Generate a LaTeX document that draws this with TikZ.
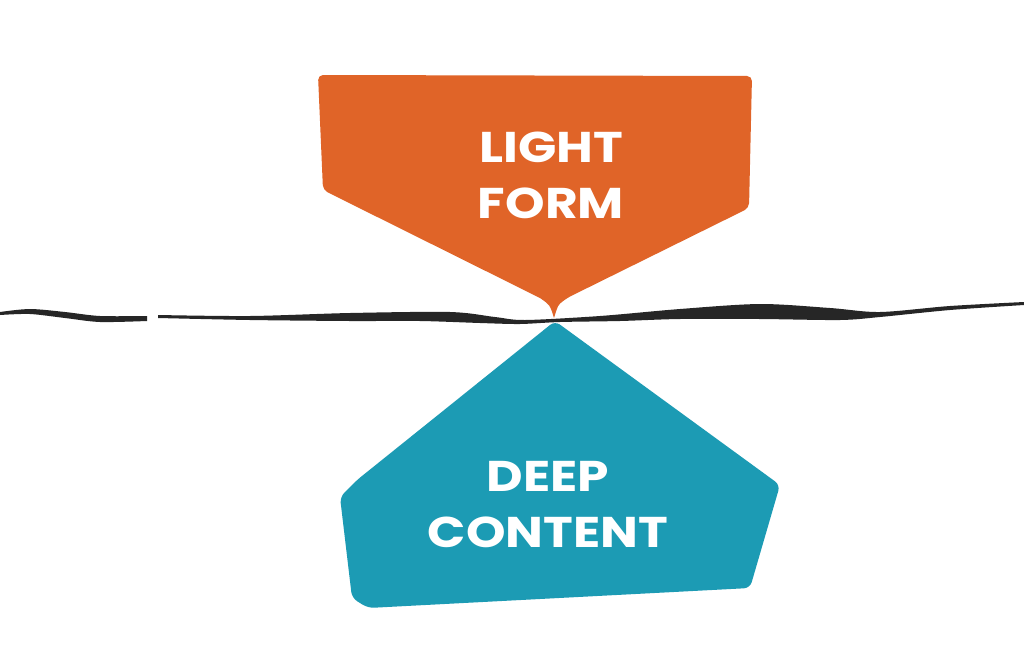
\documentclass[tikz,border=0pt]{standalone}
\usepackage{fontspec}
\setmainfont{Poppins}
\newfontfamily\labelfont{Poppins}[FakeStretch=1.17]
\definecolor{lforange}{RGB}{224,100,40}
\definecolor{dcteal}{RGB}{28,155,180}
\definecolor{brush}{RGB}{38,38,38}
\begin{document}
\begin{tikzpicture}[x=1pt,y=-1pt,
  label/.style={text=white,font=\labelfont\fontsize{43}{56}\selectfont\bfseries,align=center,inner sep=0pt},
  ink/.style={fill=brush,draw=none}]
\useasboundingbox[fill=white] (0,0) rectangle (1024,653);
% brush line
\path[ink] plot[smooth] coordinates {(0,312) (30,309) (65,312) (100,316) (147,316)}
  -- plot[smooth] coordinates {(147,321) (100,322) (65,318) (30,314) (0,315)} -- cycle;
\path[ink] plot[smooth] coordinates {(158,315) (250,316) (350,313) (450,312) (495,317) (525,320) (600,316) (680,309) (760,304) (830,308) (880,312) (950,306) (1024,302)}
  -- plot[smooth] coordinates {(1024,305) (950,310) (880,317) (840,320) (760,319) (680,319) (620,321) (560,322) (520,324) (480,323) (420,321) (350,321) (250,320) (158,318)} -- cycle;
% orange shape
\path[fill=lforange,rounded corners=5pt] (318,75) -- (752,76) -- (749,208) -- (567,298)
  [sharp corners] .. controls (558,305) .. (554,318) .. controls (550,305) .. (540,298)
  [rounded corners=5pt] -- (323,190) -- cycle;
% teal shape
\path[fill=dcteal,rounded corners=6pt] (555,321) -- (780,485) -- (750,588) -- (368,608)
  -- (352,598) -- (340,497) -- (357,480) -- cycle;
\node[label] (light) at (551,175) {LIGHT\\FORM};
\node[label] (deep) at (548,505) {DEEP\\CONTENT};
\end{tikzpicture}
\end{document}
